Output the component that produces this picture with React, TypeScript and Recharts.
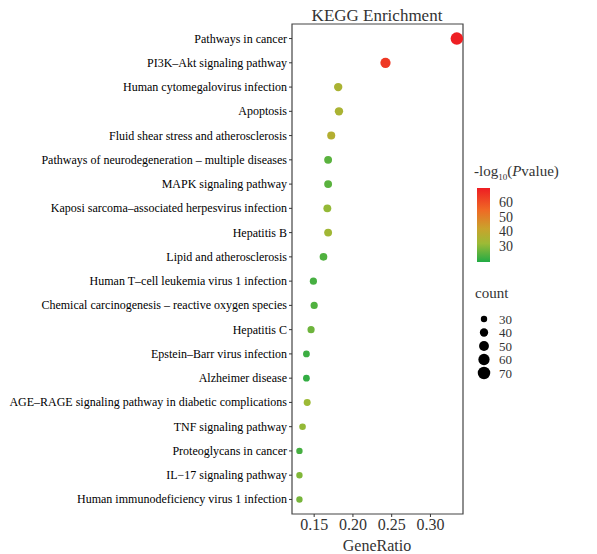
import React from "react";
import { ScatterChart, Scatter, XAxis, YAxis, ZAxis, Cell, ReferenceArea } from "recharts";

const pathways = [
  "Pathways in cancer",
  "PI3K\u2013Akt signaling pathway",
  "Human cytomegalovirus infection",
  "Apoptosis",
  "Fluid shear stress and atherosclerosis",
  "Pathways of neurodegeneration \u2013 multiple diseases",
  "MAPK signaling pathway",
  "Kaposi sarcoma\u2013associated herpesvirus infection",
  "Hepatitis B",
  "Lipid and atherosclerosis",
  "Human T\u2013cell leukemia virus 1 infection",
  "Chemical carcinogenesis \u2013 reactive oxygen species",
  "Hepatitis C",
  "Epstein\u2013Barr virus infection",
  "Alzheimer disease",
  "AGE\u2013RAGE signaling pathway in diabetic complications",
  "TNF signaling pathway",
  "Proteoglycans in cancer",
  "IL\u221217 signaling pathway",
  "Human immunodeficiency virus 1 infection",
];
const geneRatio = [0.334, 0.242, 0.181, 0.182, 0.172, 0.168, 0.168, 0.167, 0.168, 0.162, 0.149, 0.15, 0.146, 0.14, 0.14, 0.141, 0.135, 0.131, 0.131, 0.131];
const counts = [70, 51, 38, 38, 36, 35, 35, 35, 35, 34, 31, 31, 31, 29, 29, 30, 28, 27, 27, 27];
const negLogP = [69, 64, 35, 35, 37, 25, 25, 31, 33, 24, 23, 24, 27, 22, 21, 32, 31, 23, 29, 28];

const xTicks = [0.15, 0.2, 0.25, 0.3];
const colorTicks = [60, 50, 40, 30];
const sizeTicks = [30, 40, 50, 60, 70];

const X_DOMAIN: [number, number] = [0.1214, 0.342];
const Y_DOMAIN: [number, number] = [0.4, 20.6];
const C_DOMAIN: [number, number] = [19.3, 69.3];
const Z_DOMAIN: [number, number] = [30, 70];
const Z_RANGE: [number, number] = [32, 122];

const STOPS: [number, string][] = [
  [0, "#22ab45"],
  [0.25, "#9cba36"],
  [0.45, "#c9a32c"],
  [0.7, "#ef6a25"],
  [1, "#ee1d23"],
];

function hexToRgb(h: string) {
  return [parseInt(h.slice(1, 3), 16), parseInt(h.slice(3, 5), 16), parseInt(h.slice(5, 7), 16)];
}
function colorFor(v: number) {
  let t = (v - C_DOMAIN[0]) / (C_DOMAIN[1] - C_DOMAIN[0]);
  t = Math.max(0, Math.min(1, t));
  for (let i = 1; i < STOPS.length; i++) {
    if (t <= STOPS[i][0]) {
      const [t0, c0] = STOPS[i - 1];
      const [t1, c1] = STOPS[i];
      const f = (t - t0) / (t1 - t0);
      const a = hexToRgb(c0);
      const b = hexToRgb(c1);
      const m = a.map((x, k) => Math.round(x + (b[k] - x) * f));
      return `rgb(${m[0]},${m[1]},${m[2]})`;
    }
  }
  return STOPS[STOPS.length - 1][1];
}
function radiusFor(c: number) {
  const area = Z_RANGE[0] + ((c - Z_DOMAIN[0]) / (Z_DOMAIN[1] - Z_DOMAIN[0])) * (Z_RANGE[1] - Z_RANGE[0]);
  return Math.sqrt(area / Math.PI);
}

const data = pathways.map((p, i) => ({
  name: p,
  idx: i + 1,
  ratio: geneRatio[i],
  count: counts[i],
  p: negLogP[i],
}));

const FONT = "'Liberation Serif', 'Times New Roman', serif";

const YTick = (props: any) => {
  const { x, y, payload } = props;
  return (
    <text x={x} y={y} dy={4} textAnchor="end" fontFamily={FONT} fontSize={12} fill="#000">
      {pathways[payload.value - 1] ?? ""}
    </text>
  );
};

// legend geometry
const BAR_X = 477;
const BAR_W = 13;
const BAR_TOP = 188;
const BAR_BOT = 262;
const cbY = (v: number) => BAR_BOT - ((v - C_DOMAIN[0]) / (C_DOMAIN[1] - C_DOMAIN[0])) * (BAR_BOT - BAR_TOP);

export default function App() {
  return (
    <div style={{ position: "absolute", left: 0, top: 0, width: 597, height: 554, background: "#fff", fontFamily: FONT }}>
      <ScatterChart width={597} height={554} margin={{ top: 24, right: 134, bottom: 0, left: 0 }}>
        <XAxis
          type="number"
          dataKey="ratio"
          domain={X_DOMAIN}
          allowDataOverflow
          ticks={xTicks}
          tickFormatter={(v: number) => v.toFixed(2)}
          axisLine={false}
          tickSize={3}
          tickLine={{ stroke: "#333" }}
          tick={{ fill: "#333", fontSize: 16, fontFamily: FONT }}
          tickMargin={2}
          height={40}
        />
        <YAxis
          type="number"
          dataKey="idx"
          domain={Y_DOMAIN}
          allowDataOverflow
          reversed
          ticks={data.map((d) => d.idx)}
          interval={0}
          axisLine={false}
          tickSize={3}
          tickLine={{ stroke: "#333" }}
          tick={<YTick />}
          tickMargin={2}
          width={292}
        />
        <ZAxis type="number" dataKey="count" domain={Z_DOMAIN} range={Z_RANGE} />
        <ReferenceArea
          x1={X_DOMAIN[0]}
          x2={X_DOMAIN[1]}
          y1={Y_DOMAIN[0]}
          y2={Y_DOMAIN[1]}
          fill="none"
          fillOpacity={0}
          stroke="#444"
          strokeWidth={1.2}
          ifOverflow="visible"
        />
        <Scatter data={data} isAnimationActive={false} shape="circle">
          {data.map((d, i) => (
            <Cell key={i} fill={colorFor(d.p)} />
          ))}
        </Scatter>
      </ScatterChart>
      <svg width={597} height={554} style={{ position: "absolute", left: 0, top: 0, pointerEvents: "none" }}>
        <defs>
          <linearGradient id="cbar" x1="0" y1="1" x2="0" y2="0">
            {STOPS.map(([t, c], i) => (
              <stop key={i} offset={`${t * 100}%`} stopColor={c} />
            ))}
          </linearGradient>
        </defs>
        <text x={377} y={21} textAnchor="middle" fontFamily={FONT} fontSize={17} fill="#333">
          KEGG Enrichment
        </text>
        <text x={377} y={551} textAnchor="middle" fontFamily={FONT} fontSize={16} fill="#333">
          GeneRatio
        </text>
        <text x={474} y={176} fontFamily={FONT} fontSize={15} fill="#333">
          <tspan>-log</tspan>
          <tspan fontSize={9} dy={4}>10</tspan>
          <tspan dy={-4}>(</tspan>
          <tspan fontStyle="italic">P</tspan>
          <tspan>value)</tspan>
        </text>
        <rect x={BAR_X} y={BAR_TOP} width={BAR_W} height={BAR_BOT - BAR_TOP} fill="url(#cbar)" />
        {colorTicks.map((v) => (
          <text key={v} x={499} y={cbY(v) + 5} fontFamily={FONT} fontSize={14} fill="#333">
            {v}
          </text>
        ))}
        <text x={475} y={298} fontFamily={FONT} fontSize={15} fill="#333">
          count
        </text>
        {sizeTicks.map((v, i) => (
          <g key={v}>
            <circle cx={484} cy={319 + i * 13.5} r={radiusFor(v)} fill="#000" />
            <text x={499} y={319 + i * 13.5 + 4.5} fontFamily={FONT} fontSize={13} fill="#333">
              {v}
            </text>
          </g>
        ))}
      </svg>
    </div>
  );
}
